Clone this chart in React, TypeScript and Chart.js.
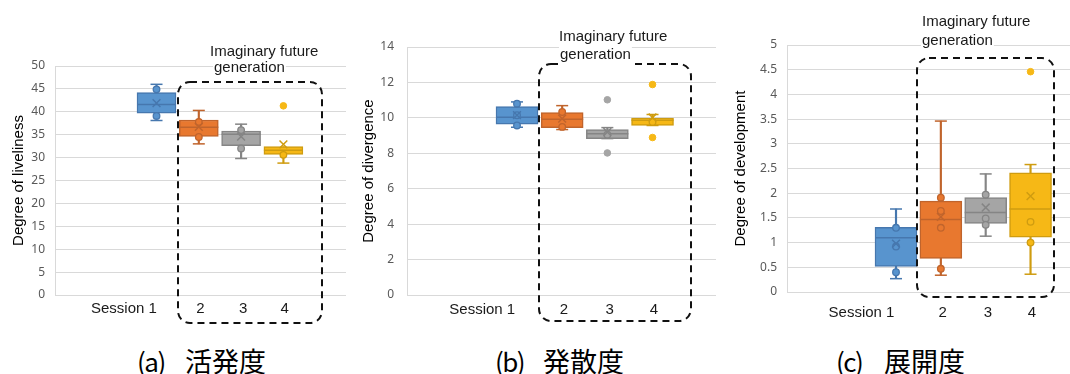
import React, { useEffect, useRef } from "react";
import { Chart, registerables } from "chart.js";
Chart.register(...registerables);

// ---------- shared categories ----------
const seriesX = [1, 2, 3, 4];
const xTickValues = [0.23, 2.04, 3.05, 4.03];
const xTickLabels = ["Session 1", "2", "3", "4"];
const noteLines = ["Imaginary future", "generation"];

// ---------- (a) liveliness ----------
const liveWhiskerLow = [38.1, 33.0, 29.8, 28.8];
const liveQ1 = [39.7, 34.6, 32.6, 30.7];
const liveMedian = [41.6, 36.6, 35.1, 31.6];
const liveQ3 = [44.2, 38.2, 35.8, 32.4];
const liveWhiskerHigh = [46.0, 40.3, 37.3, 32.4];
const liveMean = [41.9, 36.7, 34.6, 32.9];
const liveInner = [[44.9, 39.1], [37.8, 34.5], [36.0, 32.0], [30.6]];
const liveOutliers = [[], [], [], [41.3]];

// ---------- (b) divergence ----------
const divWhiskerLow = [9.47, 9.34, 8.83, 9.57];
const divQ1 = [9.64, 9.45, 8.83, 9.57];
const divMedian = [10.03, 9.92, 9.1, 9.86];
const divQ3 = [10.64, 10.3, 9.34, 9.99];
const divWhiskerHigh = [10.9, 10.69, 9.45, 10.19];
const divMean = [10.15, 9.96, 9.2, 10.02];
const divInner = [[10.8, 10.15, 9.57], [10.33, 9.49], [9.05], [9.77]];
const divOutliers = [[], [], [11.02, 8.02], [11.88, 8.89]];

// ---------- (c) development ----------
const devWhiskerLow = [0.27, 0.34, 1.13, 0.36];
const devQ1 = [0.52, 0.68, 1.39, 1.11];
const devMedian = [1.1, 1.47, 1.61, 1.68];
const devQ3 = [1.31, 1.84, 1.91, 2.41];
const devWhiskerHigh = [1.68, 3.46, 2.39, 2.58];
const devMean = [0.98, 1.52, 1.71, 1.94];
const devInner = [[1.3, 0.92, 0.4], [1.91, 1.64, 1.3, 0.47], [1.97, 1.49, 1.36], [1.42, 1.0]];
const devOutliers = [[], [], [], [4.46]];

// ---------- styles ----------
const fills = ["#5894CE", "#E8782F", "#A5A5A5", "#F6B816"];
const edges = ["#4677AE", "#C0642C", "#858585", "#CF9C10"];

type Panel = {
  canvasLeft: number; canvasWidth: number; canvasHeight: number;
  yAxisWidth: number; padTop: number; padRight: number; xAxisHeight: number;
  xMin: number; xMax: number; yMax: number; yStep: number;
  yTitle: string; yTickPad: number; xTickPad: number; boxWidth: number;
  wLow: number[]; q1: number[]; med: number[]; q3: number[]; wHigh: number[]; mean: number[];
  inner: number[][]; outliers: number[][];
  frame: { left: number; top: number; right: number; bottom: number };
  notes: { x: number; y: number }[];
  caption: string; captionKey: string; captionLeft: number; captionCjkLeft: number;
};

const panels: Panel[] = [
  {
    canvasLeft: 0, canvasWidth: 350, canvasHeight: 340,
    yAxisWidth: 55, padTop: 66, padRight: 4, xAxisHeight: 45,
    xMin: -1.4, xMax: 5.48, yMax: 50, yStep: 5,
    yTitle: "Degree of liveliness", yTickPad: 10, xTickPad: 5, boxWidth: 39,
    wLow: liveWhiskerLow, q1: liveQ1, med: liveMedian, q3: liveQ3, wHigh: liveWhiskerHigh, mean: liveMean,
    inner: liveInner, outliers: liveOutliers,
    frame: { left: 178, top: 82, right: 322, bottom: 323 },
    notes: [{ x: 210, y: 52 }, { x: 214, y: 68 }],
    captionKey: "(a)", caption: "活発度", captionLeft: 137, captionCjkLeft: 185,
  },
  {
    canvasLeft: 350, canvasWidth: 370, canvasHeight: 340,
    yAxisWidth: 57, padTop: 47, padRight: 4, xAxisHeight: 45,
    xMin: -1.435, xMax: 5.405, yMax: 14, yStep: 2,
    yTitle: "Degree of divergence", yTickPad: 13, xTickPad: 6, boxWidth: 42,
    wLow: divWhiskerLow, q1: divQ1, med: divMedian, q3: divQ3, wHigh: divWhiskerHigh, mean: divMean,
    inner: divInner, outliers: divOutliers,
    frame: { left: 189, top: 64, right: 341, bottom: 321 },
    notes: [{ x: 209, y: 37 }, { x: 210, y: 55 }],
    captionKey: "(b)", caption: "発散度", captionLeft: 495, captionCjkLeft: 543,
  },
  {
    canvasLeft: 722, canvasWidth: 348, canvasHeight: 340,
    yAxisWidth: 65, padTop: 45, padRight: 0, xAxisHeight: 48,
    xMin: -1.431, xMax: 4.88, yMax: 5, yStep: 0.5,
    yTitle: "Degree of development", yTickPad: 10, xTickPad: 12, boxWidth: 42,
    wLow: devWhiskerLow, q1: devQ1, med: devMedian, q3: devQ3, wHigh: devWhiskerHigh, mean: devMean,
    inner: devInner, outliers: devOutliers,
    frame: { left: 195, top: 58, right: 332, bottom: 297 },
    notes: [{ x: 200, y: 22 }, { x: 200, y: 41 }],
    captionKey: "(c)", caption: "展開度", captionLeft: 836, captionCjkLeft: 884,
  },
];

function flatPoints(lists: number[][]) {
  const pts: { x: number; y: number }[] = [];
  const bg: string[] = [];
  const bd: string[] = [];
  lists.forEach((vals, i) => {
    vals.forEach((v) => {
      pts.push({ x: seriesX[i], y: v });
      bg.push(fills[i]);
      bd.push(edges[i]);
    });
  });
  return { pts, bg, bd };
}

function makeFramePlugin(p: Panel) {
  return {
    id: "frameNotes",
    afterDraw(chart: any) {
      const ctx = chart.ctx as CanvasRenderingContext2D;
      const { left, top, right, bottom } = p.frame;
      const r = 12;
      ctx.save();
      ctx.setLineDash([7, 5]);
      ctx.lineWidth = 2;
      ctx.strokeStyle = "#111";
      ctx.beginPath();
      ctx.moveTo(left + r, top);
      ctx.lineTo(right - r, top);
      ctx.arcTo(right, top, right, top + r, r);
      ctx.lineTo(right, bottom - r);
      ctx.arcTo(right, bottom, right - r, bottom, r);
      ctx.lineTo(left + r, bottom);
      ctx.arcTo(left, bottom, left, bottom - r, r);
      ctx.lineTo(left, top + r);
      ctx.arcTo(left, top, left + r, top, r);
      ctx.closePath();
      ctx.stroke();
      ctx.setLineDash([]);
      ctx.font = '15px "Liberation Sans", Arial, sans-serif';
      ctx.textBaseline = "middle";
      ctx.textAlign = "left";
      noteLines.forEach((t, i) => {
        const pos = p.notes[i];
        const w = ctx.measureText(t).width;
        ctx.fillStyle = "#ffffff";
        ctx.fillRect(pos.x - 1, pos.y - 8, w + 2, 18);
        ctx.fillStyle = "#1a1a1a";
        ctx.fillText(t, pos.x, pos.y);
      });
      ctx.restore();
    },
  };
}

function BoxPanel({ p }: { p: Panel }) {
  const ref = useRef<HTMLCanvasElement | null>(null);
  useEffect(() => {
    if (!ref.current) return;
    const inner = flatPoints(p.inner);
    const outl = flatPoints(p.outliers);
    const caps: { x: number; y: number }[] = [];
    const capColors: string[] = [];
    seriesX.forEach((x, i) => {
      caps.push({ x, y: p.wLow[i] });
      capColors.push(edges[i]);
      if (p.wHigh[i] > p.q3[i] + 1e-9) {
        caps.push({ x, y: p.wHigh[i] });
        capColors.push(edges[i]);
      }
    });
    const chart = new Chart(ref.current, {
      type: "bar",
      data: {
        datasets: [
          {
            type: "bar",
            data: seriesX.map((x, i) => ({ x, y: [p.wLow[i], p.wHigh[i]] })) as any,
            backgroundColor: edges,
            borderWidth: 0,
            barThickness: 1.5,
            grouped: false,
            order: 7,
          } as any,
          {
            type: "scatter",
            data: caps,
            pointStyle: "line",
            radius: 6,
            borderColor: capColors,
            borderWidth: 1.5,
            showLine: false,
            order: 6,
          } as any,
          {
            type: "bar",
            data: seriesX.map((x, i) => ({ x, y: [p.q1[i], p.q3[i]] })) as any,
            backgroundColor: fills,
            borderColor: edges,
            borderWidth: 1.5,
            borderSkipped: false,
            barThickness: p.boxWidth,
            grouped: false,
            order: 5,
          } as any,
          {
            type: "scatter",
            data: seriesX.map((x, i) => ({ x, y: p.med[i] })),
            pointStyle: "line",
            radius: p.boxWidth / 2,
            borderColor: edges,
            borderWidth: 1.5,
            showLine: false,
            order: 4,
          } as any,
          {
            type: "scatter",
            data: inner.pts,
            pointStyle: "circle",
            radius: 3.3,
            backgroundColor: inner.bg,
            borderColor: inner.bd,
            borderWidth: 1.3,
            showLine: false,
            order: 3,
          } as any,
          {
            type: "scatter",
            data: outl.pts,
            pointStyle: "circle",
            radius: 3.3,
            backgroundColor: outl.bg,
            borderColor: outl.bg,
            borderWidth: 1,
            showLine: false,
            order: 2,
          } as any,
          {
            type: "scatter",
            data: seriesX.map((x, i) => ({ x, y: p.mean[i] })),
            pointStyle: "crossRot",
            radius: 5.5,
            borderColor: edges,
            borderWidth: 1.5,
            showLine: false,
            order: 1,
          } as any,
        ],
      },
      options: {
        animation: false,
        responsive: false,
        devicePixelRatio: 1,
        events: [],
        layout: { autoPadding: false, padding: { top: p.padTop, right: p.padRight, left: 0, bottom: 0 } },
        plugins: { legend: { display: false }, tooltip: { enabled: false } },
        scales: {
          x: {
            type: "linear",
            min: p.xMin,
            max: p.xMax,
            offset: false,
            grid: { display: false, drawTicks: false },
            border: { display: false },
            afterBuildTicks: (s: any) => {
              s.ticks = xTickValues.map((v) => ({ value: v }));
            },
            afterFit: (s: any) => {
              s.height = p.xAxisHeight;
            },
            ticks: {
              autoSkip: false,
              maxRotation: 0,
              minRotation: 0,
              padding: p.xTickPad,
              color: "#1a1a1a",
              font: { family: '"Liberation Sans", Arial, sans-serif', size: 15 },
              callback: (_v: any, i: number) => xTickLabels[i] ?? "",
            },
          },
          y: {
            type: "linear",
            min: 0,
            max: p.yMax,
            grid: { color: "#d9d9d9", lineWidth: 1, drawTicks: false },
            border: { display: true, color: "#d9d9d9", width: 1 },
            afterFit: (s: any) => {
              s.width = p.yAxisWidth;
            },
            ticks: {
              stepSize: p.yStep,
              padding: p.yTickPad,
              color: "#595959",
              font: { family: '"Noto Sans", "Open Sans", sans-serif', size: 12 },
              callback: (v: any) => String(Math.round(Number(v) * 100) / 100),
            },
            title: {
              display: true,
              text: p.yTitle,
              color: "#000000",
              padding: { top: 10, bottom: 0 },
              font: { family: '"Liberation Sans", Arial, sans-serif', size: 15 },
            },
          },
        },
      } as any,
      plugins: [makeFramePlugin(p)],
    });
    return () => chart.destroy();
  }, [p]);
  return (
    <canvas
      ref={ref}
      width={p.canvasWidth}
      height={p.canvasHeight}
      style={{
        position: "absolute",
        left: p.canvasLeft,
        top: 0,
        width: p.canvasWidth,
        height: p.canvasHeight,
      }}
    />
  );
}

export default function App() {
  useEffect(() => {
    document.body.style.margin = "0";
  }, []);
  const capFont = '"Noto Sans CJK JP", "Noto Sans", sans-serif';
  return (
    <div
      style={{
        position: "fixed",
        left: 0,
        top: 0,
        width: 1070,
        height: 374,
        background: "#ffffff",
        overflow: "hidden",
      }}
    >
      {panels.map((p, i) => (
        <BoxPanel key={i} p={p} />
      ))}
      {panels.map((p, i) => (
        <React.Fragment key={"c" + i}>
          <div
            style={{
              position: "absolute",
              left: p.captionLeft,
              top: 347,
              fontFamily: capFont,
              fontSize: 26,
              letterSpacing: "-1.5px",
              lineHeight: "27px",
              color: "#000",
              whiteSpace: "nowrap",
            }}
          >
            {p.captionKey}
          </div>
          <div
            style={{
              position: "absolute",
              left: p.captionCjkLeft,
              top: 347,
              fontFamily: capFont,
              fontSize: 27,
              lineHeight: "27px",
              color: "#000",
              whiteSpace: "nowrap",
            }}
          >
            {p.caption}
          </div>
        </React.Fragment>
      ))}
    </div>
  );
}
